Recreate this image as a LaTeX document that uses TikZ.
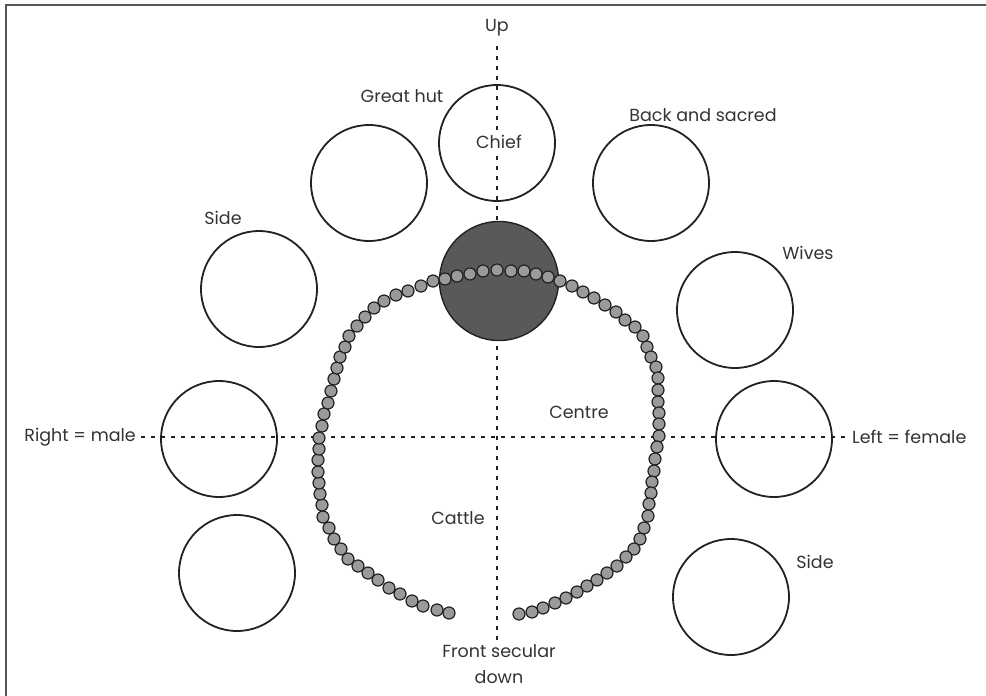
\documentclass[tikz,border=0pt]{standalone}
\usepackage{fontspec}
\setmainfont{Poppins}
\definecolor{ink}{HTML}{222222}
\definecolor{txt}{HTML}{333333}
\definecolor{beadfill}{HTML}{9A9A9A}
\definecolor{darkfill}{HTML}{595959}
\definecolor{framec}{HTML}{555555}
\begin{document}
\begin{tikzpicture}[x=1pt,y=-1pt,
  hut/.style={circle, draw=ink, line width=1.8pt, minimum size=116pt, inner sep=0pt},
  lbl/.style={text=txt, font=\fontsize{17.5}{26}\selectfont, inner sep=1pt},
  axis/.style={draw=ink, line width=1.7pt, dash pattern=on 4pt off 6pt},
  beadc/.style={draw=ink, line width=1.2pt, fill=beadfill}]
\useasboundingbox (0,0) rectangle (986,696);
% frame
\draw[framec, line width=1.6pt] (986,5) -- (6,5) -- (6,696);
% axes
\coordinate (vt) at (497,46);
\coordinate (vb) at (497,640);
\coordinate (hl) at (141,437);
\coordinate (hr) at (850,437);
\draw[axis] (vt) -- (vb);
\draw[axis] (hl) -- (hr);
% huts
\node[hut] (chief) at (497,143) {};
\node[hut] (greathut) at (369,183) {};
\node[hut] (back) at (651,183) {};
\node[hut] (sideL) at (259,289) {};
\node[hut] (wives) at (735,310) {};
\node[hut] (male) at (219,439) {};
\node[hut] (female) at (774,439) {};
\node[hut] (lowL) at (237,573) {};
\node[hut] (sideR) at (731,597) {};
% cattle kraal centre
\node[circle, draw=ink, line width=1.4pt, fill=darkfill, minimum size=119pt, inner sep=0pt] (kraal) at (499,281) {};
% bead fence
\foreach \bx/\by in {449/613,437/610,423/606,412/601,400/594,389/588,378/580,368/573,358/566,348/559,341/549,334/539,329/528,323/517,322/505,320/494,319/483,318/472,318/460,319/449,319/438,
  322/426,324/414,328/403,331/391,334/379,337/368,340/357,345/347,349/336,357/326,365/317,374/308,384/301,396/295,
  408/291,421/286,433/281,445/279,457/276,470/274,483/271,497/270,511/271,524/271,536/274,548/277,560/281,572/286,583/292,594/298,
  605/305,616/312,625/320,635/327,643/336,647/347,651/357,656/367,658/378,658/390,658/402,659/413,659/424,659/436,657/447,
  655/459,654/471,652/482,651/493,649/504,648/516,644/528,640/539,634/549,626/557,617/566,607/573,597/580,
  587/586,577/592,566/598,555/603,543/608,532/612,519/614}
  \draw[beadc] (\bx,\by) circle (6pt);
% labels
\node[lbl] (up) at (497,28) {Up};
\node[lbl] (lgreat) at (402,96) {Great hut};
\node[lbl, fill=white] (lchief) at (499,142) {Chief};
\node[lbl] (lback) at (703,115) {Back and sacred};
\node[lbl] (lside1) at (223,218) {Side};
\node[lbl] (lwives) at (808,253) {Wives};
\node[lbl, anchor=east] (lmale) at (137,437) {Right = male};
\node[lbl, anchor=west] (lfemale) at (851,437) {Left = female};
\node[lbl] (lcentre) at (579,412) {Centre};
\node[lbl] (lcattle) at (458,518) {Cattle};
\node[lbl] (lside2) at (815,562) {Side};
\node[lbl, align=center] (lfront) at (499,664) {Front secular\\down};
\end{tikzpicture}
\end{document}
